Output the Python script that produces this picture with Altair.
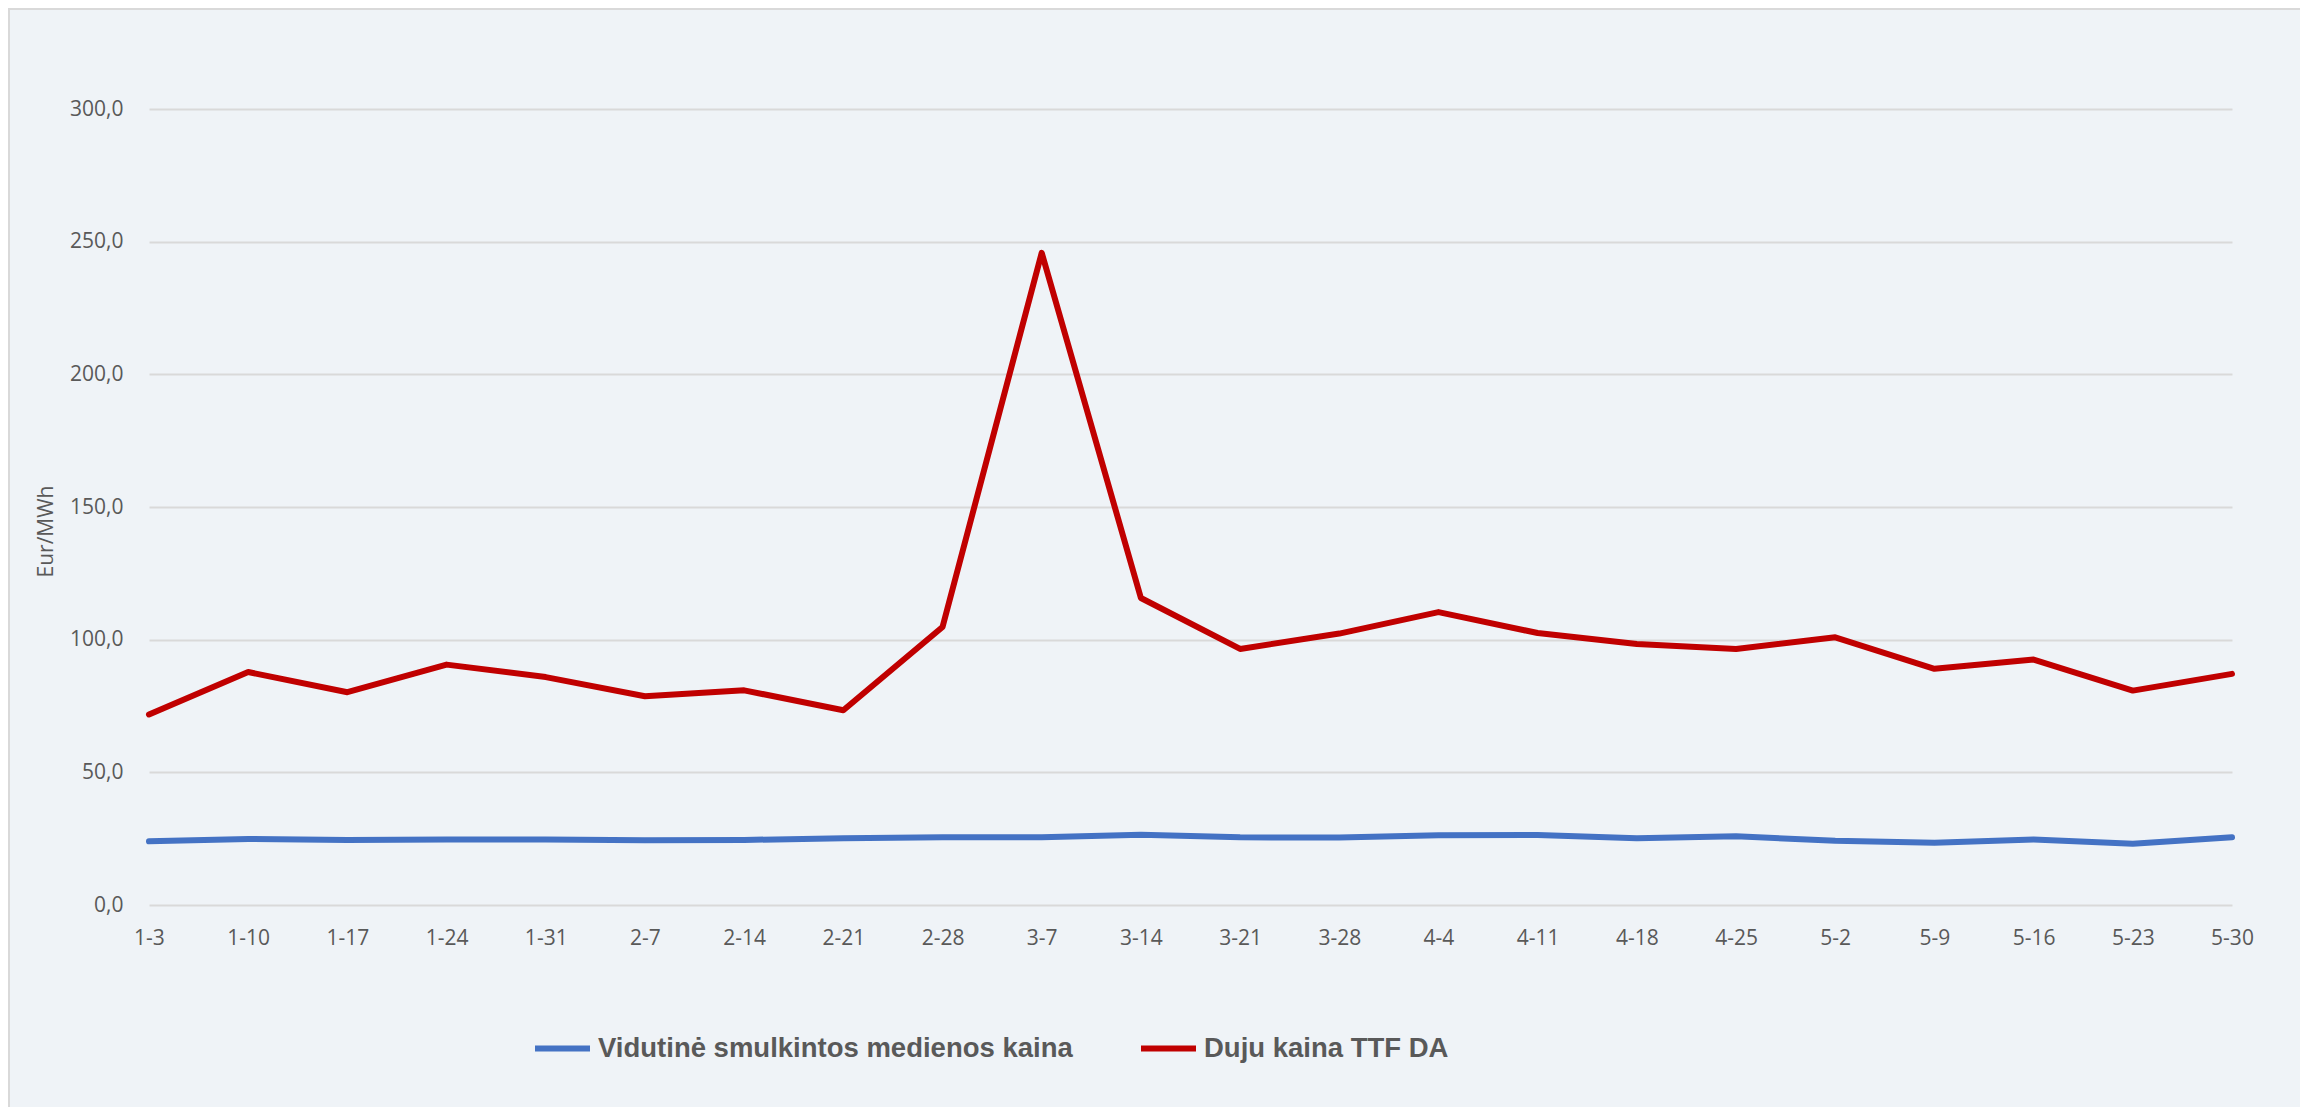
import altair as alt
import pandas as pd

dates = ["1-3", "1-10", "1-17", "1-24", "1-31", "2-7", "2-14", "2-21", "2-28", "3-7", "3-14",
         "3-21", "3-28", "4-4", "4-11", "4-18", "4-25", "5-2", "5-9", "5-16", "5-23", "5-30"]
wood_price = [24.0, 24.9, 24.5, 24.7, 24.7, 24.4, 24.5, 25.2, 25.5, 25.5, 26.5,
              25.5, 25.4, 26.3, 26.4, 25.2, 25.9, 24.2, 23.5, 24.7, 23.1, 25.5]
gas_price = [71.8, 87.8, 80.2, 90.6, 85.9, 78.7, 80.9, 73.4, 104.8, 245.8, 115.7,
             96.5, 102.3, 110.4, 102.5, 98.4, 96.5, 100.9, 89.0, 92.5, 80.8, 87.1]
series_names = ["Vidutinė smulkintos medienos kaina", "Duju kaina TTF DA"]
series_colors = ["#4472C4", "#C00000"]
y_ticks = [0, 50, 100, 150, 200, 250, 300]
y_title = "Eur/MWh"

rows = []
for name, vals in zip(series_names, [wood_price, gas_price]):
    for d, v in zip(dates, vals):
        rows.append({"date": d, "value": v, "series": name})
df = pd.DataFrame(rows)

TXT = "#595959"

lines = alt.Chart(df).mark_line(strokeWidth=6, strokeCap="round", strokeJoin="round").encode(
    x=alt.X("date:N", sort=dates, title=None,
            scale=alt.Scale(type="point", padding=0),
            axis=alt.Axis(domain=False, ticks=False, grid=False, labelAngle=0, labelPadding=22,
                          labelFontSize=21, labelColor=TXT, labelFont="Open Sans")),
    y=alt.Y("value:Q", scale=alt.Scale(domain=[0, 300]),
            axis=alt.Axis(values=y_ticks,
                          labelExpr="replace(format(datum.value, '.1f'), '.', ',')",
                          domain=False, ticks=False, gridColor="#D9D9D9", gridWidth=2,
                          labelPadding=26, labelFontSize=21, labelColor=TXT, labelFont="Open Sans",
                          title=y_title, titleX=-103, titleY=422, titleAngle=270,
                          titleFontWeight="normal", titleFontSize=21, titleColor=TXT,
                          titleFont="Open Sans", titleAlign="center", titleBaseline="middle")),
    color=alt.Color("series:N", scale=alt.Scale(domain=series_names, range=series_colors),
                    legend=alt.Legend(orient="none", legendX=383, legendY=909, direction="horizontal",
                                      title=None, symbolType="stroke", symbolSize=3025,
                                      symbolStrokeWidth=6, labelFont="Liberation Sans",
                                      labelFontSize=27.5, labelFontWeight="bold", labelColor=TXT,
                                      labelOffset=5, columnPadding=56, labelLimit=0)),
    detail="series:N",
)

frame = alt.Chart(pd.DataFrame({"a": [0]})).mark_rect(
    filled=False, stroke="#D9D9D9", strokeWidth=2, clip=False
).encode(x=alt.value(-140), x2=alt.value(2154), y=alt.value(-100), y2=alt.value(1010))

chart = alt.layer(frame, lines).properties(
    width=2083, height=796, autosize="none",
    padding={"left": 141, "top": 101, "right": 68, "bottom": 202},
    background="#EFF3F7",
).configure_view(strokeWidth=0)

chart.save("out.html", embed_options={"renderer": "svg", "actions": False})
